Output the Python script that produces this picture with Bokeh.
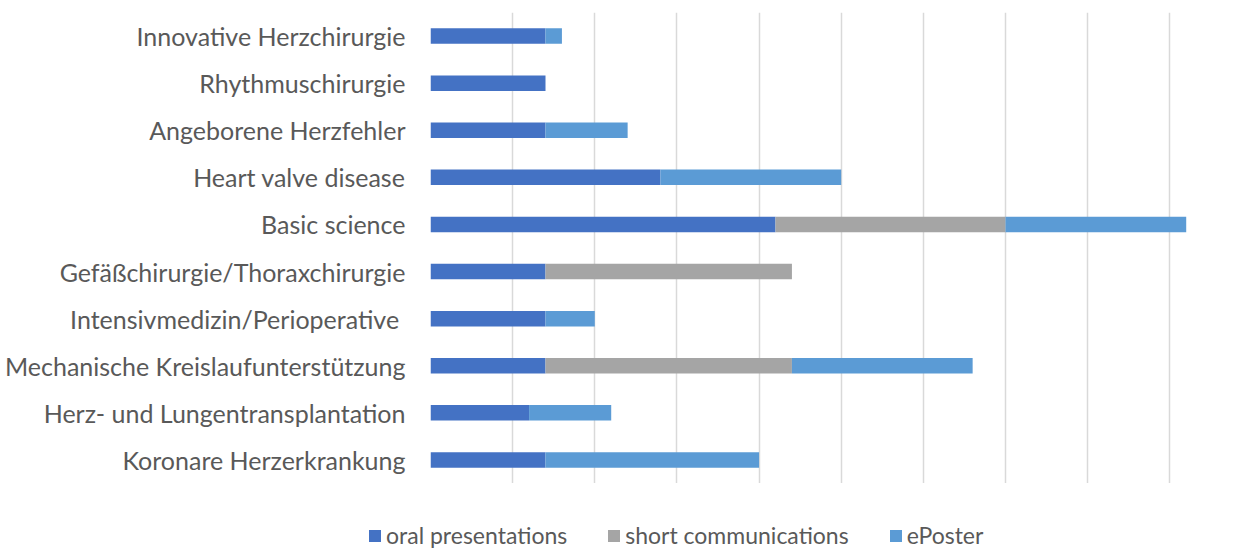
from bokeh.plotting import figure
from bokeh.layouts import column
from bokeh.models import Legend, LegendItem, FactorRange, SingleIntervalTicker
from bokeh.embed import file_html
from bokeh.resources import INLINE

categories = [
    "Koronare Herzerkrankung",
    "Herz- und Lungentransplantation",
    "Mechanische Kreislaufunterstützung",
    "Intensivmedizin/Perioperative ",
    "Gefäßchirurgie/Thoraxchirurgie",
    "Basic science",
    "Heart valve disease",
    "Angeborene Herzfehler",
    "Rhythmuschirurgie",
    "Innovative Herzchirurgie",
]
oral = [7, 6, 7, 7, 7, 21, 14, 7, 7, 7]
short = [0, 0, 15, 0, 15, 14, 0, 0, 0, 0]
eposter = [13, 5, 11, 3, 0, 11, 11, 5, 0, 1]
series = ["oral presentations", "short communications", "ePoster"]
colors = ["#4472C4", "#A5A5A5", "#5B9BD5"]

FONT = "Lato"

p = figure(
    y_range=FactorRange(*categories),
    x_range=(0, 49),
    frame_width=805, frame_height=471,
    min_border_left=430, min_border_right=0, min_border_top=12, min_border_bottom=0,
    output_backend="svg", toolbar_location=None,
)
data = dict(cat=categories, oral=oral, short=short, eposter=eposter)
renderers = p.hbar_stack(["oral", "short", "eposter"], y="cat", height=0.33,
                         color=colors, source=data, line_width=0)

p.xaxis.visible = False
p.xgrid.ticker = SingleIntervalTicker(interval=5)
p.xgrid.grid_line_color = "#D9D9D9"
p.xgrid.grid_line_width = 1.5
p.ygrid.grid_line_color = None
p.outline_line_color = None

p.yaxis.axis_line_color = None
p.yaxis.major_tick_line_color = None
p.yaxis.minor_tick_line_color = None
p.yaxis.major_tick_out = 0
p.yaxis.major_tick_in = 0
p.yaxis.major_label_text_font = FONT
p.yaxis.major_label_text_font_size = "25px"
p.yaxis.major_label_text_color = "#595959"
p.yaxis.major_label_standoff = 25

# separate strip for the legend below the chart
lg = figure(
    x_range=(0, 1), y_range=(0, 1),
    frame_width=1235, frame_height=66,
    min_border=0, output_backend="svg", toolbar_location=None,
)
lg.axis.visible = False
lg.grid.grid_line_color = None
lg.outline_line_color = None
# swatch renderers kept outside the visible range; they only feed the legend
swatches = [lg.hbar(y=[-5], right=[0.5], left=[0], height=1, color=c, line_width=0)
            for c in colors]

legend = Legend(
    items=[LegendItem(label=s, renderers=[r]) for s, r in zip(series, swatches)],
    orientation="horizontal",
    location=(367, 0),
    label_text_font=FONT, label_text_font_size="23px", label_text_color="#595959",
    glyph_width=15, glyph_height=15, label_standoff=4, spacing=39,
    border_line_color=None, background_fill_alpha=0, margin=0, padding=2,
)
lg.add_layout(legend, "center")

layout = column(p, lg, spacing=0)
open("out.html", "w").write(file_html(layout, INLINE))
